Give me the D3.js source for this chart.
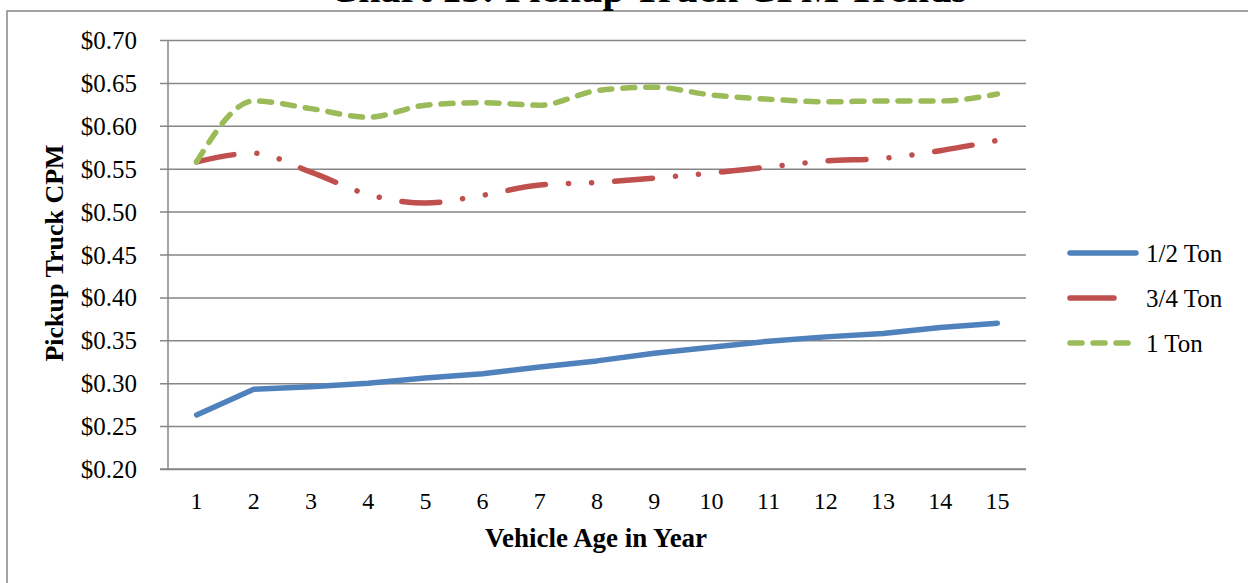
<!DOCTYPE html>
<html>
<head>
<meta charset="utf-8">
<script src="https://cdn.jsdelivr.net/npm/d3@7"></script>
<style>
  html, body { margin: 0; padding: 0; background: #fff; overflow: hidden; }
  svg { display: block; }
  svg text { font-family: "Times New Roman", "Liberation Serif", "DejaVu Serif", serif; fill: #000; }
</style>
</head>
<body>
<div id="chart"></div>
<script>
/* ── data ─────────────────────────────────────────────────── */
const ages     = [1, 2, 3, 4, 5, 6, 7, 8, 9, 10, 11, 12, 13, 14, 15];
const halfTon  = [0.263, 0.293, 0.296, 0.300, 0.306, 0.311, 0.319, 0.326, 0.335, 0.342, 0.349, 0.354, 0.358, 0.365, 0.370];
const threeQtr = [0.558, 0.568, 0.546, 0.520, 0.510, 0.519, 0.531, 0.534, 0.539, 0.545, 0.552, 0.559, 0.562, 0.571, 0.583];
const oneTon   = [0.558, 0.629, 0.620, 0.610, 0.624, 0.627, 0.624, 0.641, 0.645, 0.636, 0.631, 0.628, 0.629, 0.629, 0.637];
const yTicks   = [0.20, 0.25, 0.30, 0.35, 0.40, 0.45, 0.50, 0.55, 0.60, 0.65, 0.70];

const series = [
  { name: '1/2 Ton', values: halfTon,  color: '#4F81BD', dash: null,                  legendDash: null,     curve: d3.curveLinear },
  { name: '3/4 Ton', values: threeQtr, color: '#C0504D', dash: '38,23,0.1,23,0.1,23', legendDash: '44,100', curve: d3.curveMonotoneX },
  { name: '1 Ton',   values: oneTon,   color: '#9BBB59', dash: '12,11',               legendDash: '12,11',  curve: d3.curveMonotoneX },
];

const SERIF = '"Times New Roman", "Liberation Serif", "DejaVu Serif", serif';

/* ── layout ───────────────────────────────────────────────── */
const W = 1248, H = 583;
const PL = 168, PR = 1026, PT = 40, PB = 469;

const svg = d3.select('#chart').append('svg').attr('width', W).attr('height', H);

// outer chart frame
svg.append('rect')
  .attr('x', 7).attr('y', 11).attr('width', W + 20).attr('height', H + 20)
  .attr('fill', 'none').attr('stroke', '#868686').attr('stroke-width', 1.5);

// title, cut off by the top edge as in the source picture
svg.append('text')
  .attr('x', 648).attr('y', 1.5).attr('text-anchor', 'middle')
  .style('font-family', SERIF)
  .attr('font-size', 40).attr('font-weight', 'bold')
  .text('Chart 15: Pickup Truck CPM Trends');

/* ── scales ───────────────────────────────────────────────── */
const x = d3.scaleBand().domain(ages).range([PL, PR]);
const xc = d => x(d) + x.bandwidth() / 2;
const y = d3.scaleLinear().domain([0.20, 0.70]).range([PB, PT]);

// gridlines + y axis
const yAxis = d3.axisLeft(y).tickValues(yTicks)
  .tickSize(-(PR - PL)).tickPadding(0).tickFormat(d => '$' + d.toFixed(2));
const yG = svg.append('g').attr('transform', `translate(${PL},0)`).call(yAxis);
yG.select('.domain').remove();
yG.selectAll('.tick line')
  .attr('x1', -8).attr('stroke', '#868686').attr('stroke-width', 1.5);
yG.selectAll('.tick text')
  .attr('x', -31).attr('dy', '0.34em')
  .style('font-family', SERIF).attr('font-size', 25).attr('fill', '#000');

// axis lines
svg.append('line').attr('x1', PL).attr('x2', PL).attr('y1', PT).attr('y2', PB)
  .attr('stroke', '#868686').attr('stroke-width', 1.5);
svg.append('line').attr('x1', PL - 8).attr('x2', PR).attr('y1', PB).attr('y2', PB)
  .attr('stroke', '#868686').attr('stroke-width', 1.5);

// x axis labels
const xAxis = d3.axisBottom(x).tickSize(0).tickPadding(0);
const xG = svg.append('g').attr('transform', `translate(0,${PB})`).call(xAxis);
xG.select('.domain').remove();
xG.selectAll('.tick text')
  .attr('y', 40).attr('dy', 0)
  .style('font-family', SERIF).attr('font-size', 24).attr('fill', '#000');

// axis titles
svg.append('text')
  .attr('x', 596).attr('y', 547).attr('text-anchor', 'middle')
  .style('font-family', SERIF)
  .attr('font-size', 27).attr('font-weight', 'bold')
  .text('Vehicle Age in Year');

svg.append('text')
  .attr('transform', 'translate(63,253) rotate(-90)')
  .attr('text-anchor', 'middle')
  .style('font-family', SERIF)
  .attr('font-size', 26).attr('font-weight', 'bold')
  .text('Pickup Truck CPM');

/* ── lines ────────────────────────────────────────────────── */
series.forEach(s => {
  const line = d3.line().x((d, i) => xc(ages[i])).y(d => y(d)).curve(s.curve);
  svg.append('path')
    .datum(s.values)
    .attr('d', line)
    .attr('fill', 'none')
    .attr('stroke', s.color)
    .attr('stroke-width', 5.5)
    .attr('stroke-linecap', 'round')
    .attr('stroke-linejoin', 'round')
    .attr('stroke-dasharray', s.dash);
});

/* ── legend ───────────────────────────────────────────────── */
const legend = svg.append('g').attr('transform', 'translate(1070,253)');
series.forEach((s, i) => {
  const row = legend.append('g').attr('transform', `translate(0,${i * 45})`);
  row.append('line')
    .attr('x1', 0).attr('x2', 66)
    .attr('stroke', s.color).attr('stroke-width', 5.5)
    .attr('stroke-linecap', 'round')
    .attr('stroke-dasharray', s.legendDash);
  row.append('text')
    .attr('x', 76).attr('dy', '0.34em')
    .style('font-family', SERIF)
    .attr('font-size', 25)
    .text(s.name);
});
</script>
</body>
</html>
